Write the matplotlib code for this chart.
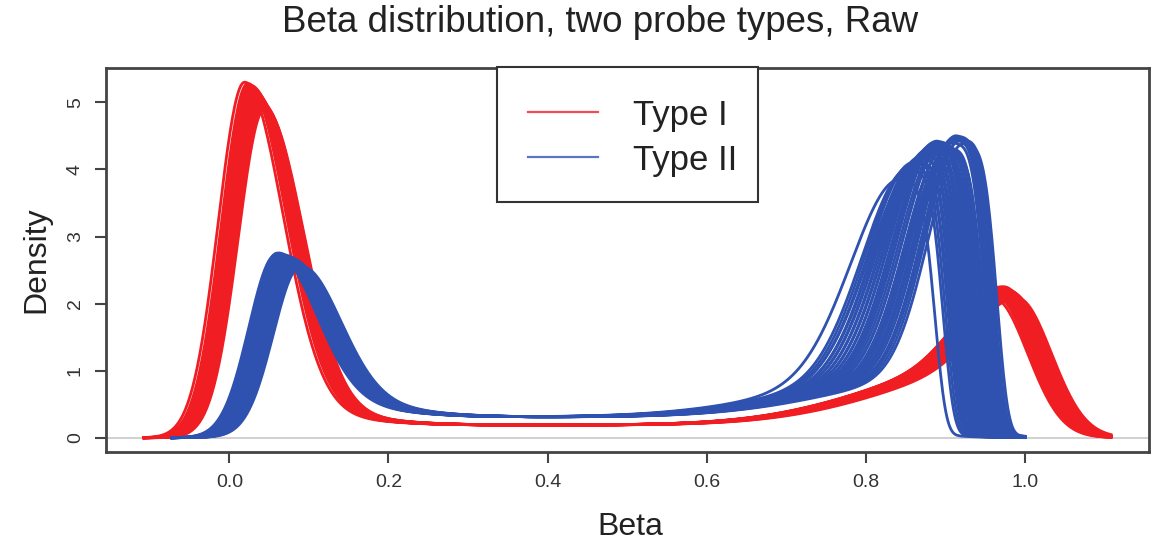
import numpy as np
import matplotlib
matplotlib.use('Agg')
import matplotlib.pyplot as plt
from matplotlib.patches import Rectangle
from matplotlib.lines import Line2D

plt.rcParams['font.family'] = ['Liberation Sans', 'DejaVu Sans']

# Type I probes: position / height of the unmethylated and methylated modes per sample
red_low_pos = [0.019, 0.023, 0.024, 0.025, 0.026, 0.027, 0.027, 0.028, 0.029, 0.029, 0.030, 0.031, 0.031, 0.032,
               0.033, 0.033, 0.034, 0.035, 0.035, 0.036, 0.037, 0.038, 0.039, 0.040, 0.041, 0.042, 0.043, 0.044]
red_low_peak = [5.30, 5.28, 5.26, 5.24, 5.23, 5.21, 5.25, 5.19, 5.17, 5.22, 5.15, 5.13, 5.18, 5.11,
                5.09, 5.14, 5.07, 5.05, 5.10, 5.03, 5.01, 4.99, 5.02, 4.97, 4.95, 4.96, 4.92, 4.90]
red_high_pos = [0.962, 0.964, 0.966, 0.967, 0.968, 0.969, 0.970, 0.971, 0.972, 0.972, 0.973, 0.974, 0.975, 0.975,
                0.976, 0.977, 0.977, 0.978, 0.979, 0.980, 0.981, 0.982, 0.983, 0.984, 0.985, 0.987, 0.989, 0.992]
red_high_peak = [2.08, 2.12, 2.10, 2.15, 2.13, 2.18, 2.11, 2.20, 2.16, 2.22, 2.14, 2.19, 2.25, 2.17,
                 2.21, 2.12, 2.23, 2.16, 2.19, 2.14, 2.20, 2.15, 2.18, 2.12, 2.16, 2.13, 2.10, 2.08]

# Type II probes (left flank width of the methylated mode varies per sample)
blue_low_pos = [0.057, 0.059, 0.060, 0.061, 0.062, 0.063, 0.064, 0.064, 0.065, 0.066, 0.066, 0.067,
                0.068, 0.068, 0.069, 0.070, 0.070, 0.071, 0.072, 0.072, 0.073, 0.074, 0.074, 0.075,
                0.076, 0.076, 0.077, 0.078, 0.079, 0.080, 0.081, 0.082, 0.083, 0.084, 0.086, 0.088]
blue_low_peak = [2.72, 2.75, 2.70, 2.73, 2.68, 2.71, 2.66, 2.70, 2.64, 2.68, 2.72, 2.62,
                 2.66, 2.69, 2.60, 2.65, 2.70, 2.58, 2.63, 2.67, 2.61, 2.56, 2.64, 2.59,
                 2.66, 2.57, 2.62, 2.55, 2.60, 2.58, 2.54, 2.57, 2.53, 2.56, 2.52, 2.55]
blue_high_pos = [0.846, 0.856, 0.859, 0.862, 0.864, 0.866, 0.868, 0.870, 0.872, 0.874, 0.876, 0.878,
                 0.880, 0.882, 0.884, 0.885, 0.887, 0.888, 0.890, 0.891, 0.893, 0.895, 0.897, 0.899,
                 0.901, 0.903, 0.905, 0.907, 0.909, 0.911, 0.913, 0.915, 0.917, 0.919, 0.921, 0.924]
blue_high_peak = [3.85, 4.00, 4.05, 4.10, 3.98, 4.12, 4.08, 4.18, 4.15, 4.22, 4.20, 4.28,
                  4.25, 4.32, 4.35, 4.30, 4.38, 4.40, 4.36, 4.42, 4.33, 4.30, 4.36, 4.28,
                  4.34, 4.25, 4.32, 4.22, 4.40, 4.45, 4.48, 4.50, 4.46, 4.42, 4.45, 4.38]
blue_high_width = [0.062, 0.058, 0.057, 0.056, 0.058, 0.055, 0.056, 0.054, 0.055, 0.053, 0.054, 0.052,
                   0.053, 0.051, 0.052, 0.050, 0.051, 0.050, 0.049, 0.050, 0.049, 0.048, 0.049, 0.048,
                   0.047, 0.048, 0.047, 0.046, 0.047, 0.046, 0.045, 0.046, 0.045, 0.045, 0.044, 0.044]

x_ticks = [0.0, 0.2, 0.4, 0.6, 0.8, 1.0]
y_ticks = [0, 1, 2, 3, 4, 5]

RED = '#F01E23'
BLUE = '#2F52B0'
W, H = 1156, 543

# shape of each probe type's density: low mode widths, shoulder, plateau, high mode widths
red_shape = dict(grid=(-0.107, 1.108), lo_sl=0.033, lo_sr=0.048, shoulder=0.25, shoulder_sr=0.10,
                 floor=0.19, hi_wide=0.15, hi_sr=0.042, narrow_frac=0.54, hi_pow=2)
blue_shape = dict(grid=(-0.072, 1.0), lo_sl=0.033, lo_sr=0.05, shoulder=0.30, shoulder_sr=0.10,
                  floor=0.31, hi_wide=0.15, hi_sr=0.037, narrow_frac=0.85, hi_pow=4)


def logistic(z):
    return 1.0 / (1.0 + np.exp(-z))


def split_bump(x, m, h, sl, sr, pr=2):
    left = np.exp(-0.5 * ((x - m) / sl) ** 2)
    right = np.exp(-0.5 * np.abs((x - m) / sr) ** pr)
    return h * np.where(x < m, left, right)


def plateau(x, hi_m, floor):
    return floor * logistic((x - 0.07) / 0.025) * logistic((hi_m - x) / 0.03)


def density_curve(lo_m, lo_h, hi_m, hi_h, hi_sl, s):
    x = np.linspace(s['grid'][0], s['grid'][1], 800)
    base = plateau(x, hi_m, s['floor'])
    shoulder = split_bump(x, lo_m, s['shoulder'], s['lo_sl'], s['shoulder_sr'])
    low_amp = lo_h - s['shoulder'] - plateau(np.array(lo_m), hi_m, s['floor'])
    low = split_bump(x, lo_m, low_amp, s['lo_sl'], s['lo_sr'])
    amp = hi_h - plateau(np.array(hi_m), hi_m, s['floor'])
    narrow = split_bump(x, hi_m, amp * s['narrow_frac'], hi_sl, s['hi_sr'], s['hi_pow'])
    wide = split_bump(x, hi_m, amp * (1 - s['narrow_frac']), s['hi_wide'], s['hi_sr'], s['hi_pow'])
    return x, base + shoulder + low + narrow + wide


if __name__ == "__main__":
    fig = plt.figure(figsize=(W / 100, H / 100), dpi=100)
    ax = fig.add_axes([106 / W, 1 - 452 / H, (1149 - 106) / W, (452 - 68) / H])

    ax.axhline(0, color='#c8c8c8', lw=1.2, zorder=1)

    for i in range(len(blue_low_pos)):
        if i < len(red_low_pos):
            x, y = density_curve(red_low_pos[i], red_low_peak[i], red_high_pos[i], red_high_peak[i],
                                 0.05, red_shape)
            ax.plot(x, y, color=RED, lw=2.0, zorder=2)
        x, y = density_curve(blue_low_pos[i], blue_low_peak[i], blue_high_pos[i], blue_high_peak[i],
                             blue_high_width[i], blue_shape)
        ax.plot(x, y, color=BLUE, lw=2.0, zorder=3)

    ax.set_xlim(-0.155, 1.156)
    ax.set_ylim(-0.212, 5.512)
    ax.set_xticks(x_ticks)
    ax.set_xticklabels(['%.1f' % t for t in x_ticks])
    ax.set_yticks(y_ticks)
    ax.set_yticklabels([str(t) for t in y_ticks], rotation=90, va='center')
    ax.tick_params(length=8, width=1.5, color='#444444', labelcolor='#333333', labelsize=14, pad=8)
    for sp in ax.spines.values():
        sp.set_color('#444444')
        sp.set_linewidth(2)

    fig.text(600 / W, 1 - 32 / H, 'Beta distribution, two probe types, Raw',
             ha='center', va='baseline', fontsize=26.5, color='#222222')
    fig.text(630 / W, 1 - 535 / H, 'Beta', ha='center', va='baseline', fontsize=23, color='#222222')
    fig.text(36 / W, 1 - 260 / H, 'Density', rotation=90, ha='center', va='center',
             fontsize=23, color='#222222')

    # legend box drawn by hand, pinned to the top of the plot region
    fig.patches.append(Rectangle((497 / W, 1 - 202 / H), (758 - 497) / W, (202 - 67) / H,
                                 transform=fig.transFigure, fill=True, facecolor='white',
                                 edgecolor='#333333', lw=1.5, zorder=5))
    for yy, col, lab, base in [(112, RED, 'Type I', 125), (157, BLUE, 'Type II', 170)]:
        fig.lines.append(Line2D([528 / W, 598 / W], [1 - yy / H] * 2, transform=fig.transFigure,
                                color=col, lw=1.6, alpha=0.8, zorder=6))
        fig.text(633 / W, 1 - base / H, lab, ha='left', va='baseline', fontsize=25,
                 color='#222222', zorder=6)

    fig.savefig('out.png', dpi=100)
